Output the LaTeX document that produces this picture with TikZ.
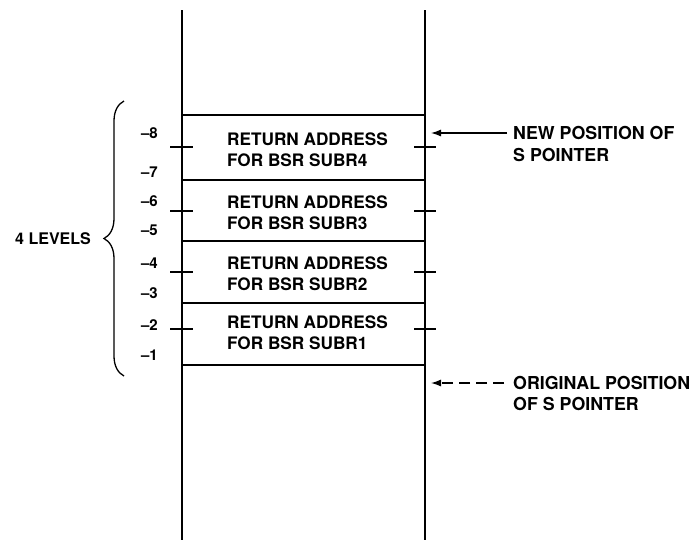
\documentclass[tikz,border=0pt]{standalone}
\usepackage{fontspec}
\setmainfont{TeX Gyre Heros}
\usetikzlibrary{arrows.meta,decorations.pathreplacing}
\begin{document}
\begin{tikzpicture}[x=1pt,y=-1pt,
  stk/.style={line width=1.4pt},
  tck/.style={line width=1.2pt},
  boxtxt/.style={anchor=west,align=left,inner sep=0pt,font=\bfseries\fontsize{17.2}{21}\selectfont},
  lvl/.style={anchor=east,inner sep=0pt,font=\bfseries\fontsize{15}{18}\selectfont},
  note/.style={anchor=west,align=left,inner sep=0pt,font=\bfseries\fontsize{17.8}{21.5}\selectfont},
  ptr/.style={line width=1.3pt,-{Latex[length=10pt,width=7pt]}}]
\useasboundingbox (0,0) rectangle (694,549);
% column
\coordinate (lt) at (182,10); \coordinate (lb) at (182,540);
\coordinate (rt) at (425,10); \coordinate (rb) at (425,540);
\draw[stk] (lt) -- (lb);
\draw[stk] (rt) -- (rb);
\foreach \y/\n in {115/h0,180/h1,241/h2,303/h3,365/h4}{
  \coordinate (\n l) at (182,\y); \coordinate (\n r) at (425,\y);
  \draw[stk] (\n l) -- (\n r);
}
% ticks
\foreach \y/\n in {147/t1,211/t2,272/t3,329/t4}{
  \coordinate (\n a) at (170,\y); \coordinate (\n b) at (193,\y);
  \coordinate (\n c) at (414,\y); \coordinate (\n d) at (436,\y);
  \draw[tck] (\n a) -- (\n b);
  \draw[tck] (\n c) -- (\n d);
}
% box texts
\node[boxtxt] (b4) at (227,150) {RETURN ADDRESS\\FOR BSR SUBR4};
\node[boxtxt] (b3) at (227,212.5) {RETURN ADDRESS\\FOR BSR SUBR3};
\node[boxtxt] (b2) at (227,273.5) {RETURN ADDRESS\\FOR BSR SUBR2};
\node[boxtxt] (b1) at (227,332.5) {RETURN ADDRESS\\FOR BSR SUBR1};
% level numbers
\foreach \y/\t/\n in {133/8/m8,172/7/m7,201/6/m6,230/5/m5,263/4/m4,293/3/m3,325/2/m2,355/1/m1}{
  \node[lvl] (\n) at (158,\y) {\textendash\t};
}
% brace
\coordinate (bt) at (124,101);
\coordinate (bb) at (124,376);
\draw[line width=1.3pt,decorate,decoration={brace,amplitude=20pt,aspect=0.5}] (bb) -- (bt);
\node[anchor=east,inner sep=0pt,font=\bfseries\fontsize{16}{20}\selectfont] (lev) at (91,239) {4 LEVELS};
% pointers
\node[note] (np) at (513,144) {NEW POSITION OF\\S POINTER};
\coordinate (npt) at (431,133);
\draw[ptr] (np.west |- npt) ++(-6,0) coordinate (nps) -- (npt);
\node[note] (op) at (513,393.5) {ORIGINAL POSITION\\OF S POINTER};
\coordinate (opt) at (431,383);
\draw[ptr,dash pattern=on 11pt off 6pt] (op.west |- opt) ++(-9,0) coordinate (ops) -- (opt);
\end{tikzpicture}
\end{document}
